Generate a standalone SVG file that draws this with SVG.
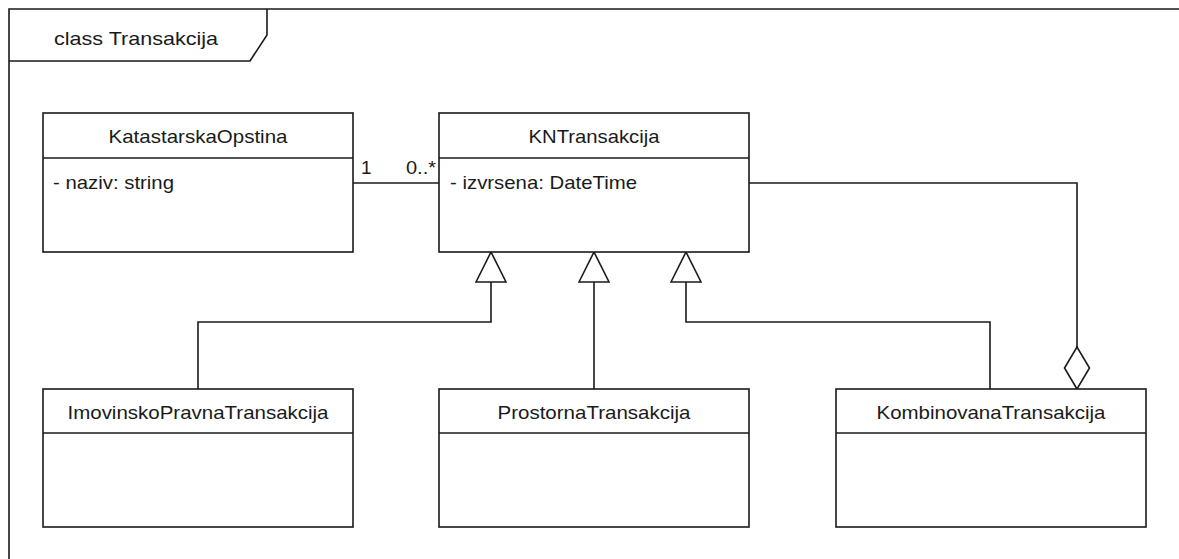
<svg xmlns="http://www.w3.org/2000/svg" width="1179" height="559" viewBox="0 0 1179 559">
<style>
  .box{fill:#fff;stroke:#1a1a1a;stroke-width:1.6}
  .ln{fill:none;stroke:#1a1a1a;stroke-width:1.6}
  .t{font-family:"Liberation Sans",Arial,sans-serif;font-size:19px;fill:#1a1a1a}
  .c{text-anchor:middle}
</style>
<defs>
  <marker id="gen" markerUnits="userSpaceOnUse" viewBox="0 0 32 32" refX="31" refY="16" markerWidth="32" markerHeight="32" orient="auto">
    <path d="M1,1 L31,16 L1,31 Z" fill="#fff" stroke="#1a1a1a" stroke-width="1.6"/>
  </marker>
  <marker id="agg" markerUnits="userSpaceOnUse" viewBox="0 0 44 28" refX="1" refY="14" markerWidth="44" markerHeight="28" orient="auto">
    <path d="M1,14 L22,1.5 L43,14 L22,26.5 Z" fill="#fff" stroke="#1a1a1a" stroke-width="1.6"/>
  </marker>
</defs>
<rect width="1179" height="559" fill="#fff"/>
<g id="frame">
  <path class="ln" d="M9,570 V9 H1179"/>
  <path class="ln" d="M9,61 H250 L267,35 V9"/>
  <text class="t" x="54" y="45" font-size="20" textLength="164" lengthAdjust="spacingAndGlyphs">class Transakcija</text>
</g>
<g id="connectors">
  <path class="ln" d="M353,183 H439"/>
  <text class="t" x="361" y="174" font-size="15">1</text>
  <text class="t" x="406" y="174" font-size="15" textLength="30" lengthAdjust="spacingAndGlyphs">0..*</text>
  <path class="ln" d="M198,389 V322 H491 V252" marker-end="url(#gen)"/>
  <path class="ln" d="M594,389 V252" marker-end="url(#gen)"/>
  <path class="ln" d="M990,389 V322 H686 V252" marker-end="url(#gen)"/>
  <path class="ln" d="M1077,389 V183 H749" marker-start="url(#agg)"/>
</g>
<g id="KatastarskaOpstina">
  <rect class="box" x="43" y="113" width="310" height="139"/>
  <line class="ln" x1="43" y1="158" x2="353" y2="158"/>
  <text class="t c" x="198" y="143" textLength="179" lengthAdjust="spacingAndGlyphs">KatastarskaOpstina</text>
  <text class="t" x="53" y="189" textLength="121" lengthAdjust="spacingAndGlyphs">- naziv: string</text>
</g>
<g id="KNTransakcija">
  <rect class="box" x="439" y="113" width="310" height="139"/>
  <line class="ln" x1="439" y1="158" x2="749" y2="158"/>
  <text class="t c" x="594" y="143" textLength="131" lengthAdjust="spacingAndGlyphs">KNTransakcija</text>
  <text class="t" x="450" y="189" textLength="187" lengthAdjust="spacingAndGlyphs">- izvrsena: DateTime</text>
</g>
<g id="ImovinskoPravnaTransakcija">
  <rect class="box" x="43" y="389" width="310" height="138"/>
  <line class="ln" x1="43" y1="433" x2="353" y2="433"/>
  <text class="t c" x="198" y="419" textLength="261" lengthAdjust="spacingAndGlyphs">ImovinskoPravnaTransakcija</text>
</g>
<g id="ProstornaTransakcija">
  <rect class="box" x="439" y="389" width="310" height="138"/>
  <line class="ln" x1="439" y1="433" x2="749" y2="433"/>
  <text class="t c" x="594" y="419" textLength="193" lengthAdjust="spacingAndGlyphs">ProstornaTransakcija</text>
</g>
<g id="KombinovanaTransakcija">
  <rect class="box" x="836" y="389" width="310" height="138"/>
  <line class="ln" x1="836" y1="433" x2="1146" y2="433"/>
  <text class="t c" x="991" y="419" textLength="229" lengthAdjust="spacingAndGlyphs">KombinovanaTransakcija</text>
</g>
</svg>
